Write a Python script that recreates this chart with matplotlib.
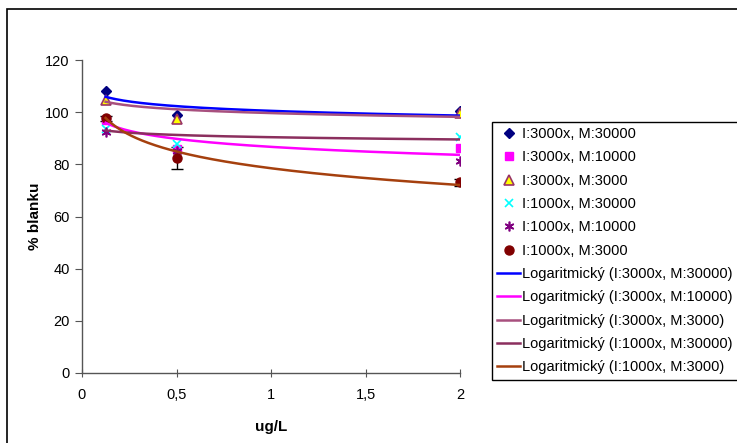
import numpy as np
from matplotlib import pyplot as plt
from matplotlib.lines import Line2D
from matplotlib.patches import Rectangle

plt.rcParams["font.family"] = ["Liberation Sans", "DejaVu Sans"]

# measured points
conc = [0.125, 0.5, 2]
series_names = [
    "I:3000x, M:30000",
    "I:3000x, M:10000",
    "I:3000x, M:3000",
    "I:1000x, M:30000",
    "I:1000x, M:10000",
    "I:1000x, M:3000",
]
i3000_m30000 = [108.1, 98.9, 100.5]
i3000_m10000 = [97.0, 85.9, 86.2]
i3000_m3000 = [104.7, 97.3, 99.6]
i1000_m30000 = [93.5, 87.8, 90.6]
i1000_m10000 = [92.5, 85.0, 81.3]
i1000_m3000 = [97.7, 82.3, 73.1]
i1000_m3000_err = [1.0, 4.2, 1.4]

# logarithmic trendlines: y = a*ln(x) + b
trend_names = [
    "Logaritmický (I:3000x, M:30000)",
    "Logaritmický (I:3000x, M:10000)",
    "Logaritmický (I:3000x, M:3000)",
    "Logaritmický (I:1000x, M:30000)",
    "Logaritmický (I:1000x, M:3000)",
]
trend_a = [-2.60, -4.44, -2.09, -1.25, -9.27]
trend_b = [100.5, 86.7, 99.65, 90.4, 78.5]

fig = plt.figure(figsize=(7.37, 4.43), dpi=100)
ax = fig.add_axes([82 / 737, 70 / 443, 378 / 737, 313 / 443])

# outer chart frame (cut off on right/bottom like the original)
fig.add_artist(Rectangle((7 / 737, -0.1), 1.2, 1.1 - 9 / 443,
                         transform=fig.transFigure, fill=False,
                         edgecolor="black", linewidth=1.2))

styles = [
    dict(marker="D", color="#000080", mec="#000080", ms=5.5),
    dict(marker="s", color="#FF00FF", mec="#FF00FF", ms=5.5),
    dict(marker="^", color="#FFFF00", mec="#993366", ms=6.5, mew=1.2),
    dict(marker="x", color="#00FFFF", mec="#00FFFF", ms=6, mew=1.2),
    dict(marker=(6, 2, 0), color="#800080", mec="#800080", ms=7, mew=1.2),
    dict(marker="o", color="#800000", mec="#800000", ms=6.5),
]
values = [i3000_m30000, i3000_m10000, i3000_m3000,
          i1000_m30000, i1000_m10000, i1000_m3000]

handles = []
for name, vals, st in zip(series_names, values, styles):
    ax.plot(conc, vals, linestyle="none", zorder=3, **st)
    handles.append(Line2D([], [], linestyle="none", label=name, **st))

ax.errorbar(conc, i1000_m3000, yerr=i1000_m3000_err, fmt="none",
            ecolor="black", elinewidth=1, capsize=4, zorder=2)

trend_colors = ["#0000FF", "#FF00FF", "#A8507E", "#8B2F5E", "#A5400E"]
xs = np.linspace(conc[0], conc[-1], 300)
for name, a, b, c in zip(trend_names, trend_a, trend_b, trend_colors):
    ln, = ax.plot(xs, a * np.log(xs) + b, color=c, linewidth=1.8, zorder=4,
                  label=name)
    handles.append(ln)

ax.set_xlim(0, 2)
ax.set_ylim(0, 120)
ax.set_xticks([0, 0.5, 1, 1.5, 2])
ax.set_xticklabels(["0", "0,5", "1", "1,5", "2"])
ax.set_yticks(range(0, 121, 20))
for side in ("top", "right"):
    ax.spines[side].set_visible(False)
for side in ("left", "bottom"):
    ax.spines[side].set_color("#555555")
    ax.spines[side].set_linewidth(1)
ax.tick_params(axis="y", direction="out", length=5, labelsize=10.5, pad=4,
               color="#555555")
ax.tick_params(axis="x", direction="inout", length=6, labelsize=10.5, pad=8,
               color="#555555")

ax.set_xlabel("ug/L", fontsize=11, fontweight="bold", labelpad=13)
ax.set_ylabel("% blanku", fontsize=11, fontweight="bold", labelpad=2)

fig.legend(handles=handles, loc="upper left",
           bbox_to_anchor=(492 / 737, 1 - 122 / 443), fontsize=10.5,
           frameon=True, fancybox=False, edgecolor="black", framealpha=1,
           borderpad=0.35, labelspacing=0.64, handlelength=1.6,
           handletextpad=0.1, borderaxespad=0, numpoints=1)

fig.savefig("out.png", dpi=100)
